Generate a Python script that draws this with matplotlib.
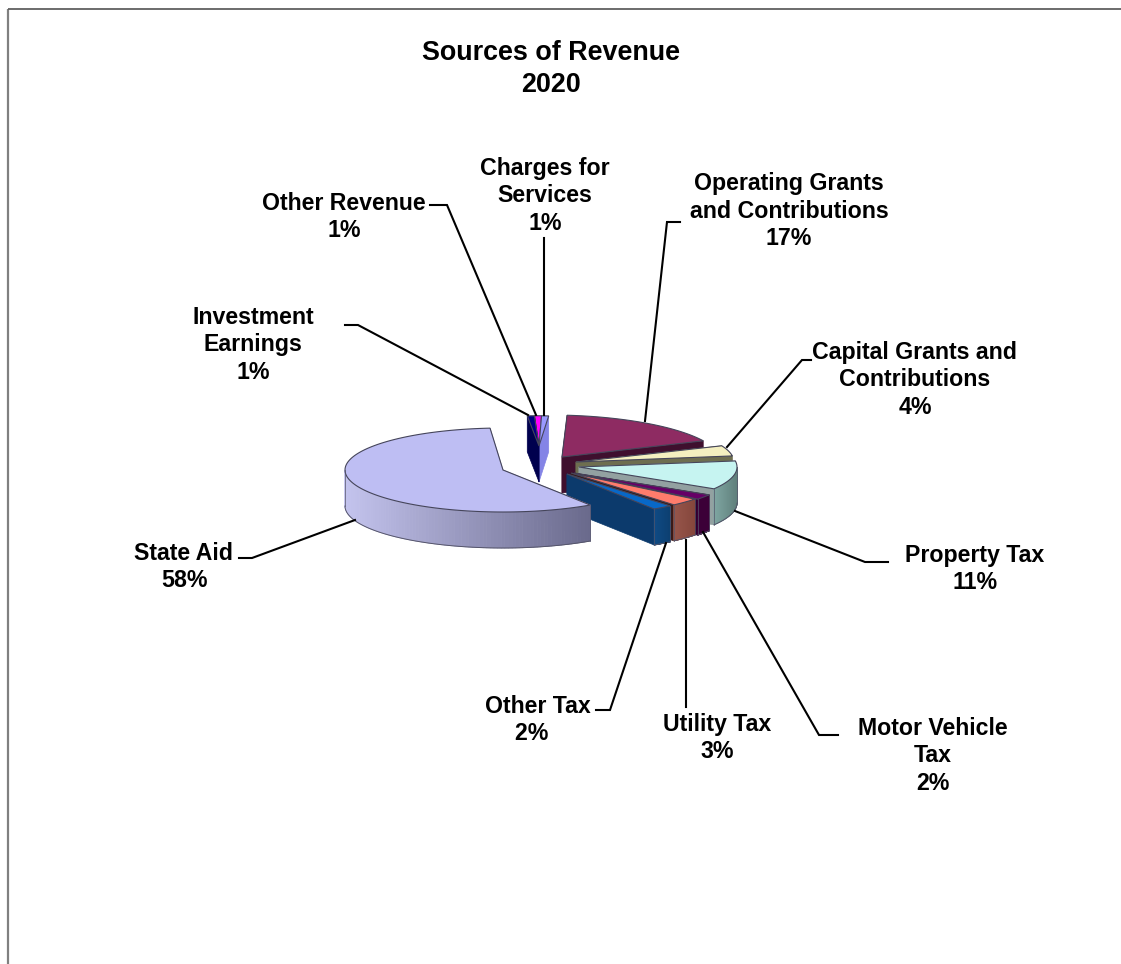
import numpy as np
import matplotlib
matplotlib.use("Agg")
import matplotlib.pyplot as plt
from matplotlib.patches import Polygon

plt.rcParams['font.family'] = ['Liberation Sans', 'DejaVu Sans']

# revenue shares, clockwise from the top of the pie
categories = ['Charges for\nServices', 'Operating Grants\nand Contributions',
              'Capital Grants and\nContributions', 'Property Tax', 'Motor Vehicle\nTax',
              'Utility Tax', 'Other Tax', 'State Aid', 'Investment\nEarnings', 'Other Revenue']
shares = [1, 17, 4, 11, 2, 3, 2, 58, 1, 1]

# pie shape, in pixels
RX, RY, DEPTH = 158.0, 42.0, 36.0
START_ANGLE = 87.5

# per slice drawing setup: apex, radius scale, lean, top, cut face, side colours
slice_style = {
    'Charges for\nServices': ((539, 446), 0.72, -0.08, '#9999FF', '#8484E6', '#8484E6', '#8484E6'),
    'Operating Grants\nand Contributions': ((562, 457), 1, -0.28, '#8E2B62', '#3F0F2E', '#4A1436', '#4A1436'),
    'Capital Grants and\nContributions': ((576, 462), 1, 0, '#F4EFC0', '#6E6E50', '#8A8A68', '#8A8A68'),
    'Property Tax': ((579, 467), 1, 0, '#C6F4F1', '#93A1A1', '#7FA6A2', '#5F7F7B'),
    'Motor Vehicle\nTax': ((574, 473), 1, 0, '#660066', '#2E002E', '#3C0038', '#3C0038'),
    'Utility Tax': ((571, 473), 1, 0, '#FF7C6C', '#3A1A18', '#96554A', '#85463C'),
    'Other Tax': ((567, 474), 1, 0, '#0868C8', '#0C3A6C', '#0F4A84', '#0C3F70'),
    'State Aid': ((503, 470), 1, 0, '#BEBEF3', '#A0A0D0', '#C4C4EE', '#6A6A8C'),
    'Investment\nEarnings': ((539, 446), 0.72, -0.08, '#000080', '#00004E', '#00004E', '#00004E'),
    'Other Revenue': ((539, 446), 0.72, -0.08, '#FF00FF', '#50004E', '#50004E', '#50004E'),
}
draw_order = ['Other Revenue', 'Charges for\nServices', 'Investment\nEarnings',
              'Operating Grants\nand Contributions', 'Capital Grants and\nContributions',
              'Property Tax', 'Motor Vehicle\nTax', 'Utility Tax', 'Other Tax', 'State Aid']

# label centre and leader line for each slice
label_pos = {
    'Charges for\nServices': ((545, 196), [(544, 238), (544, 415)]),
    'Operating Grants\nand Contributions': ((789, 211), [(680, 222), (667, 222), (645, 421)]),
    'Capital Grants and\nContributions': ((915, 380), [(811, 360), (802, 360), (727, 447)]),
    'Property Tax': ((975, 569), [(888, 562), (865, 562), (735, 511)]),
    'Motor Vehicle\nTax': ((933, 756), [(838, 735), (819, 735), (703, 532)]),
    'Utility Tax': ((717, 738), [(686, 707), (686, 540)]),
    'Other Tax': ((538, 720), [(596, 710), (610, 710), (666, 543)]),
    'State Aid': ((184, 567), [(239, 558), (252, 558), (355, 520)]),
    'Investment\nEarnings': ((253, 345), [(345, 325), (358, 325), (528, 415)]),
    'Other Revenue': ((344, 217), [(430, 205), (447, 205), (536, 415)]),
}


def rim(apex, scale, lean, angles):
    t = np.radians(angles)
    up = scale * RY * np.sin(t)
    x = apex[0] + scale * RX * np.cos(t) + lean * up
    y = apex[1] - up
    return x, y


def draw_slice(ax, a0, a1, style):
    apex, scale, lean, top, cut, side0, side1 = style
    angles = np.linspace(a0, a1, 160)
    x, y = rim(apex, scale, lean, angles)

    # the two cut faces
    for i in (0, -1):
        pts = [apex, (x[i], y[i]), (x[i], y[i] + DEPTH), (apex[0], apex[1] + DEPTH)]
        ax.add_patch(Polygon(pts, closed=True, fc=cut, ec=cut, lw=0.5))

    # outer wall, only the part that faces the viewer, shaded left to right
    low = np.sin(np.radians(angles)) < 0
    if low.any():
        xmin, xmax = x[low].min(), x[low].max()
        for j in range(len(x) - 1):
            if low[j] and low[j + 1]:
                f = (x[j] - xmin) / max(xmax - xmin, 1)
                col = (1 - f) * np.array(matplotlib.colors.to_rgb(side0)) + f * np.array(matplotlib.colors.to_rgb(side1))
                pts = [(x[j], y[j]), (x[j + 1], y[j + 1]),
                       (x[j + 1], y[j + 1] + DEPTH), (x[j], y[j] + DEPTH)]
                ax.add_patch(Polygon(pts, closed=True, fc=col, ec=col, lw=0.6))
        ax.plot(x[low], y[low] + DEPTH, color='#55556A', lw=0.7)
        for i in np.where(low)[0][[0, -1]]:
            ax.plot([x[i], x[i]], [y[i], y[i] + DEPTH], color='#55556A', lw=0.5)

    # top face
    pts = np.vstack([[apex], np.column_stack([x, y])])
    ax.add_patch(Polygon(pts, closed=True, fc=top, ec='#45455A', lw=0.8))


fig = plt.figure(figsize=(11.21, 9.64), dpi=100)
ax = fig.add_axes([0, 0, 1, 1])
ax.set_xlim(0, 1121)
ax.set_ylim(964, 0)
ax.axis('off')

# chart frame
ax.plot([8, 8], [964, 9], color='#808080', lw=1.6, solid_capstyle='butt')
ax.plot([8, 1121], [9, 9], color='#606060', lw=1.3, solid_capstyle='butt')

# slice angles come straight from the shares
bounds = START_ANGLE - np.cumsum([0] + shares) * 3.6
spans = {c: (bounds[i], bounds[i + 1]) for i, c in enumerate(categories)}
for c in draw_order:
    draw_slice(ax, spans[c][0], spans[c][1], slice_style[c])

for c, s in zip(categories, shares):
    pos, leader = label_pos[c]
    # the Other Tax percentage sits a little left of its name
    pad = '  ' if c == 'Other Tax' else ''
    ax.text(pos[0], pos[1], f'{c}\n{s}%{pad}', ha='center', va='center', fontsize=16.7,
            fontweight='bold', linespacing=1.245, color='black')
    lx, ly = zip(*leader)
    ax.plot(lx, ly, color='black', lw=1.5, solid_joinstyle='miter')

ax.text(551, 69, 'Sources of Revenue\n2020', ha='center', va='center', fontsize=19.4,
        fontweight='bold', linespacing=1.25)

fig.savefig('out.png', dpi=100)
